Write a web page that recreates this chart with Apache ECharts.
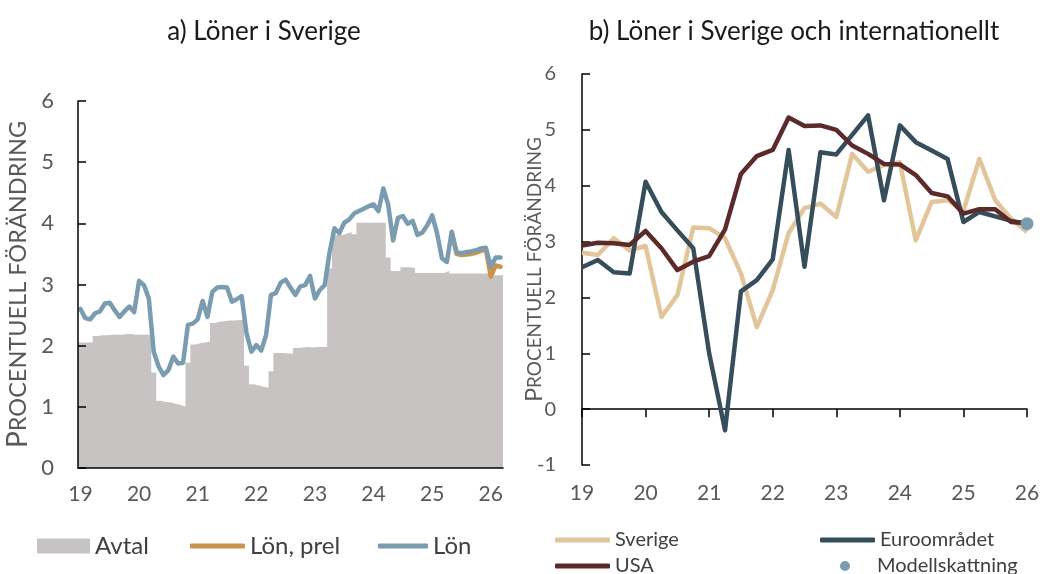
<!DOCTYPE html>
<html>
<head>
<meta charset="utf-8">
<script src="https://cdn.jsdelivr.net/npm/echarts@6/dist/echarts.min.js"></script>
<style>
  html, body { margin: 0; padding: 0; background: #fff; }
  #chart { width: 1045px; height: 574px; }
</style>
</head>
<body>
<div id="chart"></div>
<script>
// a) Löner i Sverige — monthly, Jan 2019 .. Mar 2026
const leftMonths = []
for (let y = 2019; y <= 2026; y++) {
  for (let m = 1; m <= 12; m++) {
    if (y === 2026 && m > 3) break
    leftMonths.push(y + '-' + String(m).padStart(2, '0'))
  }
}
// month boundaries, used to draw the agreement steps edge to edge
const monthEdges = leftMonths.concat(['2026-04'])

const avtal = [
  2.05, 2.05, 2.05, 2.16, 2.17, 2.17, 2.18, 2.18, 2.18, 2.19, 2.19, 2.18,
  2.18, 2.18, 2.18, 1.56, 1.10, 1.08, 1.07, 1.05, 1.03, 1.00, 1.72, 2.02,
  2.04, 2.05, 2.07, 2.37, 2.39, 2.40, 2.41, 2.41, 2.42, 2.42, 1.67, 1.37,
  1.35, 1.33, 1.31, 1.58, 1.88, 1.88, 1.87, 1.87, 1.96, 1.97, 1.98, 1.97,
  1.98, 1.98, 1.98, 3.26, 3.81, 3.81, 3.83, 3.86, 3.82, 4.01, 4.01, 4.01,
  4.01, 4.01, 4.01, 3.44, 3.22, 3.22, 3.28, 3.28, 3.27, 3.19, 3.19, 3.19,
  3.19, 3.19, 3.19, 3.22, 3.18, 3.18, 3.18, 3.18, 3.18, 3.18, 3.18, 3.18,
  3.15, 3.15, 3.15
]

const lon = [
  2.60, 2.45, 2.43, 2.53, 2.56, 2.69, 2.70, 2.58, 2.47, 2.56, 2.64, 2.55,
  3.06, 2.99, 2.77, 1.90, 1.66, 1.52, 1.60, 1.82, 1.71, 1.72, 2.34, 2.36,
  2.43, 2.73, 2.47, 2.88, 2.95, 2.96, 2.95, 2.72, 2.76, 2.81, 2.20, 1.90,
  2.01, 1.92, 2.17, 2.83, 2.86, 3.03, 3.08, 2.95, 2.83, 2.97, 2.99, 3.14,
  2.77, 2.91, 2.99, 3.53, 3.92, 3.84, 4.01, 4.06, 4.16, 4.20, 4.24, 4.28,
  4.31, 4.20, 4.57, 4.30, 3.72, 4.09, 4.12, 3.99, 4.04, 3.81, 3.85, 3.97,
  4.13, 3.84, 3.43, 3.37, 3.86, 3.53, 3.51, 3.53, 3.54, 3.56, 3.59, 3.60,
  3.29, 3.44, 3.44
]

// preliminary figures, only the last months
const lonPrel = [
  null, null, null, null, null, null, null, null, null, null, null, null,
  null, null, null, null, null, null, null, null, null, null, null, null,
  null, null, null, null, null, null, null, null, null, null, null, null,
  null, null, null, null, null, null, null, null, null, null, null, null,
  null, null, null, null, null, null, null, null, null, null, null, null,
  null, null, null, null, null, null, null, null, null, null, null, null,
  null, null, null, null, 3.86, 3.50, 3.48, 3.49, 3.50, 3.52, 3.55, 3.57,
  3.13, 3.31, 3.29
]

// b) Löner i Sverige och internationellt — quarterly, 2019Q1 .. 2026Q1
const quarters = []
for (let y = 2019; y <= 2026; y++) {
  for (let q = 1; q <= 4; q++) {
    if (y === 2026 && q > 1) break
    quarters.push(y + 'Q' + q)
  }
}

const sverige = [
  2.80, 2.76, 3.06, 2.84, 2.92, 1.65, 2.04, 3.25, 3.24, 3.06, 2.43, 1.47,
  2.13, 3.15, 3.60, 3.68, 3.44, 4.57, 4.25, 4.37, 4.42, 3.02, 3.71, 3.74,
  3.55, 4.48, 3.74, 3.41, 3.17
]
const euro = [
  2.54, 2.67, 2.45, 2.43, 4.07, 3.53, 3.20, 2.88, 1.00, -0.38, 2.11, 2.31,
  2.68, 4.64, 2.55, 4.60, 4.56, 4.91, 5.26, 3.74, 5.08, 4.78, 4.63, 4.48,
  3.35, 3.53, 3.45, 3.37, 3.32
]
const usa = [
  2.93, 2.98, 2.97, 2.94, 3.19, 2.88, 2.49, 2.64, 2.74, 3.22, 4.21, 4.53,
  4.64, 5.22, 5.07, 5.08, 5.00, 4.72, 4.57, 4.39, 4.38, 4.19, 3.87, 3.81,
  3.50, 3.58, 3.58, 3.35, 3.33
]
const modell = [['2026Q1', 3.32]]

const FONT = 'Lato, "Noto Sans", sans-serif'
const labelGrey = '#595959'
const cGrey = '#c8c3c3'
const cLon = '#7a9cb0'
const cPrel = '#c8944a'
const cSve = '#e2c59a'
const cEuro = '#364e5c'
const cUsa = '#5c2a2a'

const yName = (big, small) => ({
  name: '{a|P}{b|ROCENTUELL FÖRÄNDRING}',
  nameLocation: 'middle',
  nameMoveOverlap: false,
  nameTextStyle: {
    color: labelGrey,
    fontFamily: FONT,
    rich: {
      a: { fontSize: big, color: labelGrey, fontFamily: FONT },
      b: { fontSize: small, color: labelGrey, fontFamily: FONT }
    }
  }
})

const legendItem = (name, left, top, w, h, icon, size, pad) => ({
  data: [{ name: name, icon: icon }],
  left: left,
  top: top,
  itemWidth: w,
  itemHeight: h,
  itemGap: 0,
  padding: 0,
  selectedMode: false,
  textStyle: { fontSize: size, color: '#404040', fontFamily: FONT, padding: [0, 0, 0, pad || 0] }
})

const chart = echarts.init(document.getElementById('chart'))

chart.setOption({
  animation: false,
  textStyle: { fontFamily: FONT },
  title: [
    { text: 'a) Löner i Sverige', left: 259, top: 14, textAlign: 'center',
      textStyle: { fontSize: 26, fontWeight: 'normal', color: '#1a1a1a', fontFamily: FONT } },
    { text: 'b) Löner i Sverige och internationellt', left: 789, top: 14, textAlign: 'center',
      textStyle: { fontSize: 26, fontWeight: 'normal', color: '#1a1a1a', fontFamily: FONT } }
  ],
  legend: [
    legendItem('Avtal', 37, 534, 53, 15, 'rect', 24),
    legendItem('Lön, prel', 190, 534, 55, 5, 'roundRect', 24),
    legendItem('Lön', 378, 534, 50, 5, 'roundRect', 24),
    legendItem('Sverige', 555, 530, 55, 5, 'roundRect', 20),
    legendItem('Euroområdet', 820, 530, 55, 5, 'roundRect', 20),
    legendItem('USA', 555, 556, 55, 5, 'roundRect', 20),
    legendItem('Modellskattning', 840, 556, 10, 10, 'circle', 20, 22)
  ],
  grid: [
    { left: 78, right: 542, top: 101, bottom: 106 },
    { left: 582, right: 18, top: 74, bottom: 109 }
  ],
  xAxis: [
    {
      type: 'category',
      gridIndex: 0,
      data: leftMonths,
      boundaryGap: true,
      axisLine: { lineStyle: { color: '#000', width: 1.5 } },
      axisTick: { length: 8, lineStyle: { color: '#000', width: 1.5 },
        interval: (i) => i % 12 === 0 },
      axisLabel: { color: labelGrey, fontSize: 21, margin: 16,
        interval: (i) => i % 12 === 0,
        formatter: (v) => v.slice(2, 4) },
      z: 5
    },
    {
      type: 'category',
      gridIndex: 1,
      data: quarters,
      boundaryGap: false,
      axisLine: { onZero: true, lineStyle: { color: '#000', width: 1.5 } },
      axisTick: { length: 8, lineStyle: { color: '#000', width: 1.5 },
        interval: (i) => i % 4 === 0 },
      axisLabel: { color: labelGrey, fontSize: 21, margin: 18,
        interval: (i) => i % 4 === 0,
        formatter: (v) => v.slice(2, 4) }
    },
    {
      type: 'category',
      gridIndex: 0,
      data: monthEdges,
      boundaryGap: false,
      show: false
    }
  ],
  yAxis: [
    Object.assign({
      type: 'value',
      gridIndex: 0,
      min: 0, max: 6, interval: 1,
      nameGap: 46,
      axisLine: { show: true, lineStyle: { color: '#000', width: 1.5 } },
      axisTick: { show: true, inside: true, length: 8, lineStyle: { color: '#000', width: 1.5 } },
      axisLabel: { color: labelGrey, fontSize: 22, margin: 24 },
      splitLine: { show: false },
      z: 5
    }, yName(28, 23.5)),
    Object.assign({
      type: 'value',
      gridIndex: 1,
      min: -1, max: 6, interval: 1,
      nameGap: 36,
      axisLine: { show: true, lineStyle: { color: '#000', width: 1.5 } },
      axisTick: { show: true, inside: true, length: 8, lineStyle: { color: '#000', width: 1.5 } },
      axisLabel: { color: labelGrey, fontSize: 20, margin: 26 },
      splitLine: { show: false }
    }, yName(23, 19))
  ],
  series: [
    {
      name: 'Avtal', type: 'line', xAxisIndex: 2, yAxisIndex: 0,
      data: avtal.concat([avtal[avtal.length - 1]]),
      step: 'end', showSymbol: false, symbol: 'none',
      lineStyle: { width: 0, color: cGrey },
      areaStyle: { color: cGrey, opacity: 1 },
      itemStyle: { color: cGrey },
      z: 1
    },
    {
      name: 'Lön, prel', type: 'line', xAxisIndex: 0, yAxisIndex: 0,
      data: lonPrel, showSymbol: false, symbol: 'none',
      lineStyle: { color: cPrel, width: 4.5, cap: 'round', join: 'round' },
      itemStyle: { color: cPrel }, z: 3
    },
    {
      name: 'Lön', type: 'line', xAxisIndex: 0, yAxisIndex: 0,
      data: lon, showSymbol: false, symbol: 'none',
      lineStyle: { color: cLon, width: 4.5, cap: 'round', join: 'round' },
      itemStyle: { color: cLon }, z: 4
    },
    {
      name: 'Sverige', type: 'line', xAxisIndex: 1, yAxisIndex: 1,
      data: sverige, showSymbol: false, symbol: 'none',
      lineStyle: { color: cSve, width: 4.5, join: 'round' },
      itemStyle: { color: cSve }, z: 3
    },
    {
      name: 'Euroområdet', type: 'line', xAxisIndex: 1, yAxisIndex: 1,
      data: euro, showSymbol: false, symbol: 'none',
      lineStyle: { color: cEuro, width: 4.5, join: 'round' },
      itemStyle: { color: cEuro }, z: 4
    },
    {
      name: 'USA', type: 'line', xAxisIndex: 1, yAxisIndex: 1,
      data: usa, showSymbol: false, symbol: 'none',
      lineStyle: { color: cUsa, width: 4.5, join: 'round' },
      itemStyle: { color: cUsa }, z: 5
    },
    {
      name: 'Modellskattning', type: 'scatter', xAxisIndex: 1, yAxisIndex: 1,
      data: modell, symbolSize: 13,
      itemStyle: { color: cLon, opacity: 1 }, z: 6
    }
  ]
})
</script>
</body>
</html>
